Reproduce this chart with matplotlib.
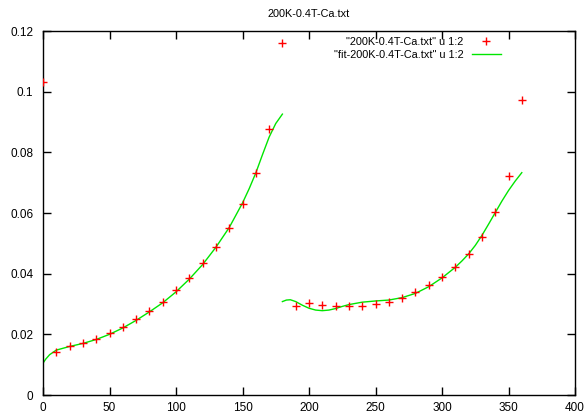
import matplotlib
matplotlib.use('Agg')
import matplotlib.pyplot as plt
from matplotlib.ticker import FuncFormatter

plt.rcParams['font.family'] = ['Liberation Sans', 'DejaVu Sans']

#-------data-------
x_data = [0, 10, 20, 30, 40, 50, 60, 70, 80, 90, 100, 110, 120, 130, 140, 150,
          160, 170, 180, 190, 200, 210, 220, 230, 240, 250, 260, 270, 280,
          290, 300, 310, 320, 330, 340, 350, 360]
y_data = [0.1031, 0.0141, 0.0161, 0.0172, 0.0185, 0.0203, 0.0224, 0.0249,
          0.0278, 0.0308, 0.0345, 0.0386, 0.0434, 0.0489, 0.0550, 0.0630,
          0.0732, 0.0876, 0.1160, 0.0293, 0.0302, 0.0297, 0.0295, 0.0293,
          0.0295, 0.0299, 0.0308, 0.0321, 0.0339, 0.0361, 0.0388, 0.0423,
          0.0464, 0.0522, 0.0604, 0.0723, 0.0973]

# fit curve, left branch
x_fit1 = [0, 2, 5, 10, 20, 30, 40, 50, 60, 70, 80, 90, 100, 110, 120, 130,
          140, 150, 155, 160, 165, 170, 175, 180]
y_fit1 = [0.0105, 0.0118, 0.0133, 0.0148, 0.0160, 0.0170, 0.0183, 0.0200,
          0.0221, 0.0246, 0.0274, 0.0304, 0.0340, 0.0382, 0.0430, 0.0487,
          0.0552, 0.0633, 0.0680, 0.0732, 0.0792, 0.0850, 0.0895, 0.0926]

# fit curve, right branch
x_fit2 = [180, 183, 186, 190, 195, 200, 205, 210, 215, 220, 225, 230, 240,
          250, 260, 270, 280, 290, 300, 310, 315, 320, 325, 330, 335, 340,
          345, 350, 355, 360]
y_fit2 = [0.0308, 0.0313, 0.0314, 0.0308, 0.0296, 0.0286, 0.0280, 0.0278,
          0.0280, 0.0285, 0.0292, 0.0298, 0.0306, 0.0310, 0.0313, 0.0321,
          0.0335, 0.0357, 0.0386, 0.0421, 0.0442, 0.0465, 0.0493, 0.0526,
          0.0563, 0.0601, 0.0639, 0.0674, 0.0705, 0.0733]

title = '200K-0.4T-Ca.txt'
label_data = '"200K-0.4T-Ca.txt" u 1:2'
label_fit = '"fit-200K-0.4T-Ca.txt" u 1:2'

#-------plot-------
fig = plt.figure(figsize=(5.85, 4.17), dpi=100)
ax = fig.add_axes([43/585, 1-395/417, 532/585, 364/417])

green = '#00e600'
ax.plot(x_data, y_data, '+', color='red', markersize=5.5, mew=1.0,
        label=label_data, zorder=3)
ax.plot(x_fit1, y_fit1, '-', color=green, lw=1.0, label=label_fit)
ax.plot(x_fit2, y_fit2, '-', color=green, lw=1.0)

ax.set_xlim(0, 400)
ax.set_ylim(0, 0.12)
ax.set_xticks(range(0, 401, 50))
ax.set_yticks([0, 0.02, 0.04, 0.06, 0.08, 0.1, 0.12])
ax.yaxis.set_major_formatter(FuncFormatter(lambda v, p: '%g' % v))
ax.tick_params(direction='in', length=6, width=1, top=True, right=True,
               labelsize=8.5, colors='black')
ax.tick_params(axis='y', pad=7)
ax.tick_params(axis='x', pad=5)
for s in ax.spines.values():
    s.set_linewidth(1)

ax.set_title(title, fontsize=7.8, pad=10)

ax.legend(loc='upper right', frameon=False, markerfirst=False, fontsize=7.8,
          handlelength=2.7, handletextpad=0.75, borderaxespad=0,
          borderpad=0, labelspacing=0.25, bbox_to_anchor=(458/532, 0.984))

plt.savefig('out.png', dpi=100)
